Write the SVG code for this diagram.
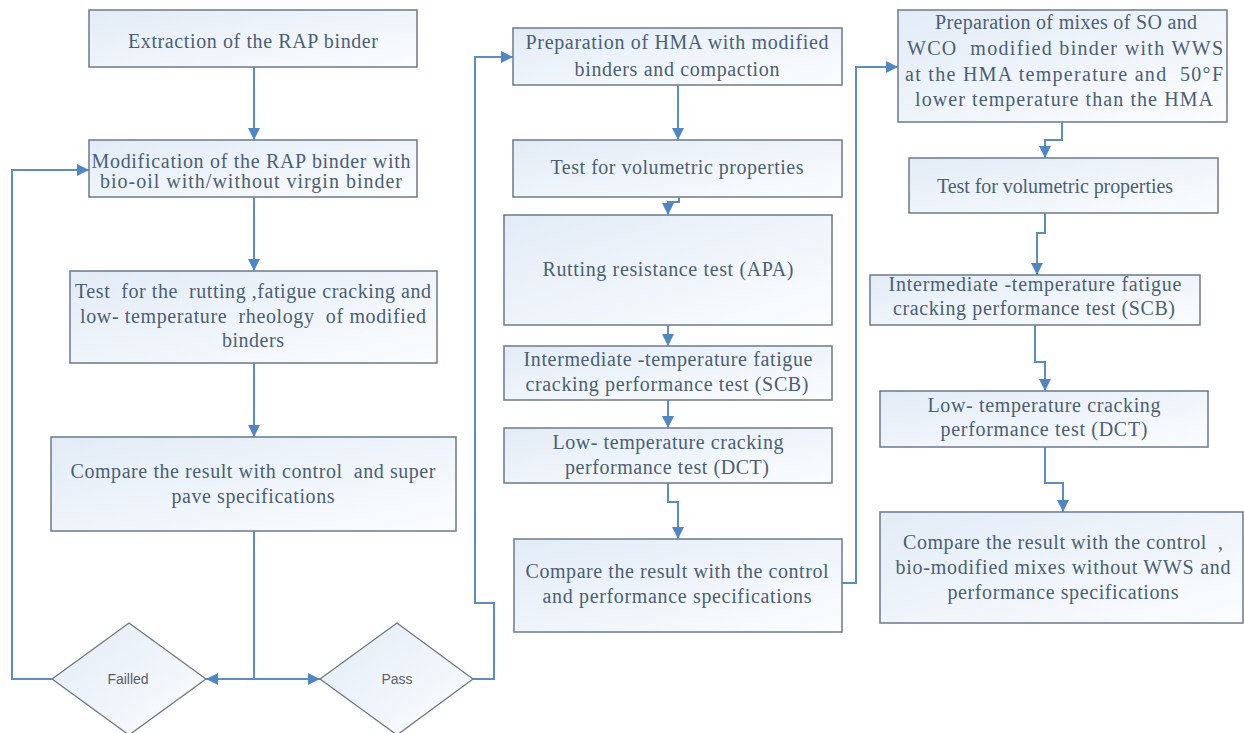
<svg xmlns="http://www.w3.org/2000/svg" width="1244" height="733" viewBox="0 0 1244 733" xml:space="preserve">
<style>
.box{fill:url(#bg);stroke:#6b7a8a;stroke-width:1.5}
.dia{fill:url(#bg);stroke:#6f7882;stroke-width:1.3}
.t{font-family:'Liberation Serif','DejaVu Serif',serif;font-size:20px;fill:#4a5f74;text-anchor:middle;white-space:pre}
.s{font-family:'Liberation Sans','DejaVu Sans',sans-serif;font-size:14px;fill:#5a6068;text-anchor:middle}
.c{fill:none;stroke:#5b8cc4;stroke-width:2}
.a{marker-end:url(#ah)}
</style>
<defs>
<linearGradient id="bg" x1="0" y1="0" x2="1" y2="1">
<stop offset="0" stop-color="#e2ebf6"/>
<stop offset="1" stop-color="#fbfdff"/>
</linearGradient>
<marker id="ah" viewBox="0 0 10 10" refX="10" refY="5" markerWidth="6" markerHeight="6" orient="auto" markerUnits="strokeWidth">
<path d="M0,0 L10,5 L0,10 z" fill="#4f86c6"/>
</marker>
</defs>
<rect width="1244" height="733" fill="#ffffff"/>

<g id="n1"><rect class="box" x="89" y="10" width="328" height="57"/>
<text class="t" x="253" y="48" textLength="250">Extraction of the RAP binder</text></g>

<g id="n2"><rect class="box" x="89" y="140" width="328" height="57"/>
<text class="t" x="251" y="168" textLength="319">Modification of the RAP binder with</text>
<text class="t" x="251" y="188" textLength="302">bio-oil with/without virgin binder</text></g>

<g id="n3"><rect class="box" x="70" y="271" width="367" height="92"/>
<text class="t" x="253" y="298" textLength="356">Test  for the  rutting ,fatigue cracking and</text>
<text class="t" x="253" y="323" textLength="346">low- temperature  rheology  of modified</text>
<text class="t" x="253" y="347" textLength="62">binders</text></g>

<g id="n4"><rect class="box" x="51" y="437" width="405" height="94"/>
<text class="t" x="253" y="478" textLength="365">Compare the result with control  and super</text>
<text class="t" x="253" y="503" textLength="163">pave specifications</text></g>

<g id="d1"><polygon class="dia" points="129,623 206,679 129,735 52,679"/>
<text class="s" x="128" y="684">Failled</text></g>

<g id="d2"><polygon class="dia" points="397,623 473,679 397,735 320,679"/>
<text class="s" x="397" y="684">Pass</text></g>

<g id="n5"><rect class="box" x="513" y="28" width="329" height="57"/>
<text class="t" x="677" y="49" textLength="303">Preparation of HMA with modified</text>
<text class="t" x="677" y="76" textLength="205">binders and compaction</text></g>

<g id="n6"><rect class="box" x="513" y="140" width="329" height="57"/>
<text class="t" x="677" y="174" textLength="253">Test for volumetric properties</text></g>

<g id="n7"><rect class="box" x="504" y="215" width="328" height="110"/>
<text class="t" x="668" y="276" textLength="251">Rutting resistance test (APA)</text></g>

<g id="n8"><rect class="box" x="504" y="346" width="328" height="54"/>
<text class="t" x="668" y="366" textLength="289">Intermediate -temperature fatigue</text>
<text class="t" x="667" y="391" textLength="283">cracking performance test (SCB)</text></g>

<g id="n9"><rect class="box" x="504" y="428" width="328" height="55"/>
<text class="t" x="668" y="449" textLength="231">Low- temperature cracking</text>
<text class="t" x="667" y="474" textLength="204">performance test (DCT)</text></g>

<g id="n10"><rect class="box" x="514" y="539" width="328" height="93"/>
<text class="t" x="677" y="578" textLength="303">Compare the result with the control</text>
<text class="t" x="677" y="603" textLength="269">and performance specifications</text></g>

<g id="n11"><rect class="box" x="898" y="10" width="329" height="112"/>
<text class="t" x="1066" y="29" textLength="262">Preparation of mixes of SO and</text>
<text class="t" x="1065" y="55" textLength="316">WCO  modified binder with WWS</text>
<text class="t" x="1064" y="81" textLength="318">at the HMA temperature and  50°F</text>
<text class="t" x="1064" y="106" textLength="298">lower temperature than the HMA</text></g>

<g id="n12"><rect class="box" x="909" y="158" width="309" height="55"/>
<text class="t" x="1055" y="193" textLength="236">Test for volumetric properties</text></g>

<g id="n13"><rect class="box" x="870" y="275" width="330" height="50"/>
<text class="t" x="1035" y="291" textLength="293">Intermediate -temperature fatigue</text>
<text class="t" x="1034" y="315" textLength="282">cracking performance test (SCB)</text></g>

<g id="n14"><rect class="box" x="880" y="391" width="328" height="56"/>
<text class="t" x="1044" y="412" textLength="233">Low- temperature cracking</text>
<text class="t" x="1044" y="436" textLength="207">performance test (DCT)</text></g>

<g id="n15"><rect class="box" x="880" y="512" width="363" height="111"/>
<text class="t" x="1063" y="549" textLength="320">Compare the result with the control  ,</text>
<text class="t" x="1063" y="574" textLength="335">bio-modified mixes without WWS and</text>
<text class="t" x="1063" y="599" textLength="231">performance specifications</text></g>

<g id="connectors">
<path class="c a" d="M254,67 V140"/>
<path class="c a" d="M254,197 V271"/>
<path class="c a" d="M254,363 V437"/>
<path class="c" d="M254,531 V679"/>
<path class="c a" d="M254,679 H206"/>
<path class="c a" d="M254,679 H320"/>
<path class="c a" d="M52,679 H12 V170 H89"/>
<path class="c a" d="M473,679 H494 V603 H475 V57 H513"/>
<path class="c a" d="M678,85 V140"/>
<path class="c a" d="M679,197 V202 H668 V215"/>
<path class="c a" d="M668,325 V346"/>
<path class="c a" d="M668,400 V428"/>
<path class="c a" d="M668,483 V502 H678 V539"/>
<path class="c a" d="M842,583 H856 V67 H898"/>
<path class="c a" d="M1062,122 V140 H1045 V158"/>
<path class="c a" d="M1045,213 V233 H1037 V275"/>
<path class="c a" d="M1035,325 V362 H1045 V391"/>
<path class="c a" d="M1045,447 V483 H1063 V512"/>
</g>
</svg>
